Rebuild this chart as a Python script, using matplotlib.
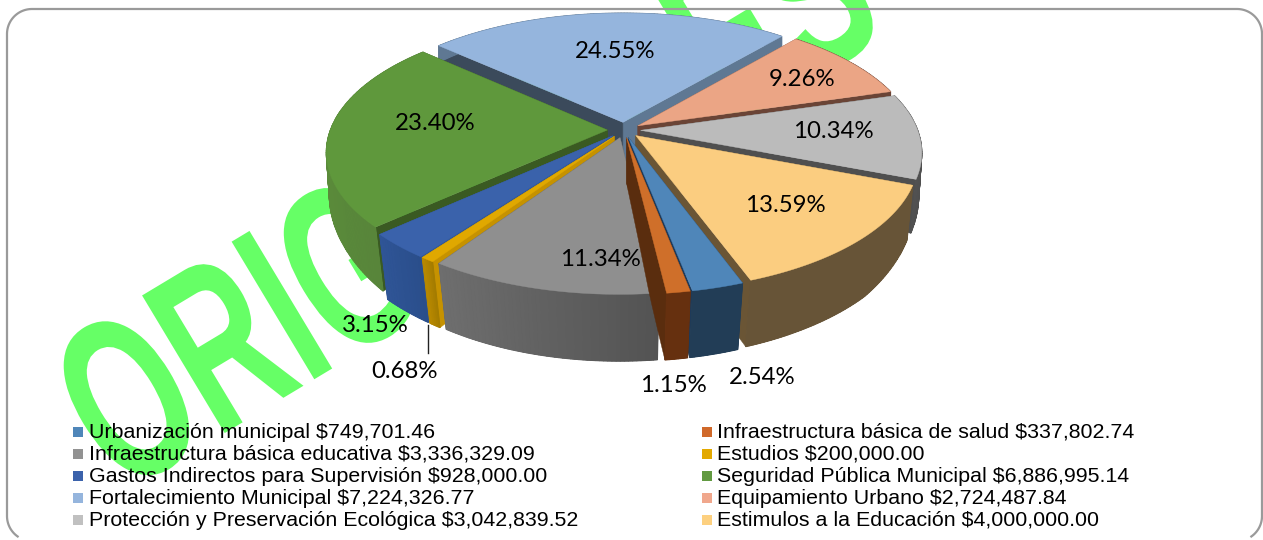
import numpy as np
import matplotlib
matplotlib.use("Agg")
import matplotlib.pyplot as plt
from matplotlib.patheffects import AbstractPathEffect
from matplotlib.transforms import Affine2D

# ---- data -------------------------------------------------------------
categories = ["Urbanización municipal", "Infraestructura básica de salud",
              "Infraestructura básica educativa", "Estudios",
              "Gastos Indirectos para Supervisión", "Seguridad Pública Municipal",
              "Fortalecimiento Municipal", "Equipamiento Urbano",
              "Protección y Preservación Ecológica", "Estimulos a la Educación"]
amounts = [749701.46, 337802.74, 3336329.09, 200000.00, 928000.00,
           6886995.14, 7224326.77, 2724487.84, 3042839.52, 4000000.00]
percents = [2.54, 1.15, 11.34, 0.68, 3.15, 23.40, 24.55, 9.26, 10.34, 13.59]

top_colors = ["#4f86b9", "#cf6f2a", "#8f8f8f", "#e0a800", "#3a62ab",
              "#5f983c", "#95b5dd", "#eba585", "#bbbbbb", "#fbcd80"]
legend_colors = ["#4f86b9", "#d0692a", "#929292", "#e3a900", "#3b62ab",
                 "#629a41", "#95b5dd", "#f0a78c", "#c0c0c0", "#fdd07f"]
outer_left = ["#223d56", "#66300f", "#6e6e6e", "#b98a00", "#2f5596",
              "#5a8a3a", "#5f7893", "#6a4436", "#5a5a5a", "#675437"]
outer_right = ["#223d56", "#66300f", "#535353", "#a27a00", "#2a4e8b",
               "#55803a", "#5f7893", "#6a4436", "#4f4f4f", "#675437"]
start_wall = ["#1e3a5a", "#5a2d0e", "#555555", "#c69200", "#2f5596",
              "#3a5a22", "#3b4a5b", "#6a4436", "#4f4f4f", "#6a5535"]
end_wall = ["#1e3a5a", "#5a2d0e", "#555555", "#b98a00", "#2f5596",
            "#3a5a22", "#5f7893", "#6a4436", "#4f4f4f", "#6a5535"]
label_xy = [(762, 376), (673, 385), (600, 259), (405, 371), (375, 325),
            (435, 122), (615, 51), (802, 78), (833, 130), (785, 205)]
legend_rows = [(0, 0), (1, 0), (0, 1), (1, 1), (0, 2), (1, 2), (0, 3), (1, 3), (0, 4), (1, 4)]

# ---- geometry of the exploded perspective pie ---------------------------
cx, cy = 624, 130
Rx, V, K = 277, 129, 0.16
EXPLODE = 0.06
START = 159.9
DY = [-1.1, -0.7, -0.4, 0.0, 0.7, 1.1]
DD = [67, 65, 55, 44, 17, 10]


def proj(x, y):
    s = 1 / (1 + K * y)
    return cx + Rx * x * s, cy - V * y * s


def below(x, y):
    sx, sy = proj(x, y)
    shrink = 1 - 0.04 * np.clip(0.1 - y, 0, 1)
    return cx + (sx - cx) * shrink, sy + np.interp(y, DY, DD)


fig = plt.figure(figsize=(12.63, 5.40), dpi=100)
ax = fig.add_axes([0, 0, 1, 1])
ax.set_xlim(0, 1263)
ax.set_ylim(540, 0)
ax.axis("off")


class Narrow(AbstractPathEffect):
    def __init__(self, sx):
        super().__init__()
        self.sx = sx

    def draw_path(self, renderer, gc, tpath, affine, rgbFace=None):
        renderer.draw_path(gc, tpath, Affine2D().scale(self.sx, 1) + affine, rgbFace)


wm = ax.text(120, 496, "ORIGINALES", fontsize=168, fontweight="bold",
             family="Liberation Sans", color="#66ff66", rotation=31,
             rotation_mode="anchor", ha="left", va="baseline", zorder=1)
wm.set_path_effects([Narrow(0.62)])

# rounded frame: open at the bottom where it leaves the picture
r = 25
arc = lambda xc, yc, a0, a1: (xc + r * np.cos(np.radians(np.linspace(a0, a1, 30))),
                              yc + r * np.sin(np.radians(np.linspace(a0, a1, 30))))
pieces = [arc(7 + r, 516, 125, 180), arc(7 + r, 9 + r, 180, 270),
          arc(1262 - r, 9 + r, 270, 360), arc(1262 - r, 516, 0, 55)]
bx_ = np.concatenate([p[0] for p in pieces])
by_ = np.concatenate([p[1] for p in pieces])
ax.plot(bx_, by_, color="#9a9a9a", lw=1.6, zorder=2, clip_on=False)

pcts = np.array(percents)
edges = START + np.concatenate([[0], np.cumsum(pcts)]) * 360.0 / pcts.sum()


def lerp_hex(a, b, t):
    ca, cb = matplotlib.colors.to_rgb(a), matplotlib.colors.to_rgb(b)
    return tuple((1 - t) * p + t * q for p, q in zip(ca, cb))


mids = np.radians((edges[:-1] + edges[1:]) / 2)
order = np.argsort(-np.cos(mids))
z = 3.0
for i in order:
    t0, t1 = np.radians(edges[i]), np.radians(edges[i + 1])
    ox, oy = EXPLODE * np.sin(mids[i]), EXPLODE * np.cos(mids[i])
    th = np.linspace(t0, t1, max(6, int(pcts[i] * 5)))
    ax_, ay_ = ox + np.sin(th), oy + np.cos(th)

    def wall(tt, col):
        global z
        rr = np.linspace(0, 1, 14)
        wx, wy = ox + rr * np.sin(tt), oy + rr * np.cos(tt)
        tx, ty = proj(wx, wy)
        bx, by = below(wx, wy)
        ax.fill(np.r_[tx, bx[::-1]], np.r_[ty, by[::-1]], fc=col, ec=col, lw=0.3, zorder=z)
        z += 0.01

    # walls farther from the viewer first
    walls = sorted([(t0, start_wall[i]), (t1, end_wall[i])], key=lambda w: -np.cos(w[0]))
    for tt, col in walls:
        wall(tt, col)
    tx, ty = proj(ax_, ay_)
    bx, by = below(ax_, ay_)
    xmin, xmax = tx.min(), tx.max()
    # solid base, then the shaded bands, so no seams show between the bands
    base = lerp_hex(outer_left[i], outer_right[i], 0.5)
    ax.fill(np.r_[tx, bx[::-1]], np.r_[ty, by[::-1]], fc=base, ec=base, lw=0.3, zorder=z)
    z += 0.01
    for j in range(len(th) - 1):
        f = (0.5 * (tx[j] + tx[j + 1]) - xmin) / max(xmax - xmin, 1)
        col = lerp_hex(outer_left[i], outer_right[i], f)
        ax.fill([tx[j], tx[j + 1], bx[j + 1], bx[j]], [ty[j], ty[j + 1], by[j + 1], by[j]],
                fc=col, ec=col, lw=0.8, zorder=z)
    z += 0.01
    fx, fy = proj(np.r_[ox, ax_], np.r_[oy, ay_])
    ax.fill(fx, fy, fc=top_colors[i], ec=top_colors[i], lw=0.3, zorder=z)
    z += 0.01

ax.plot([428, 428], [325, 353], color="#222222", lw=1.0, zorder=20)

for p, (lx, ly) in zip(percents, label_xy):
    ax.text(lx, ly + 1, f"{p:.2f}%", fontsize=17.3, family="Lato", color="black",
            ha="center", va="center", zorder=21)

COL_X = [(73, 89), (702, 717)]
for name, amt, col, (c, r_) in zip(categories, amounts, legend_colors, legend_rows):
    y = 432 + 22 * r_
    sq, tx0 = COL_X[c]
    ax.fill([sq, sq + 10, sq + 10, sq], [y - 5, y - 5, y + 5, y + 5], fc=col, ec="none", zorder=21)
    ax.text(tx0, y, f"{name} ${amt:,.2f}", fontsize=15.4, family="Liberation Sans",
            color="black", ha="left", va="center", zorder=22)

fig.savefig("out.png", dpi=100)
